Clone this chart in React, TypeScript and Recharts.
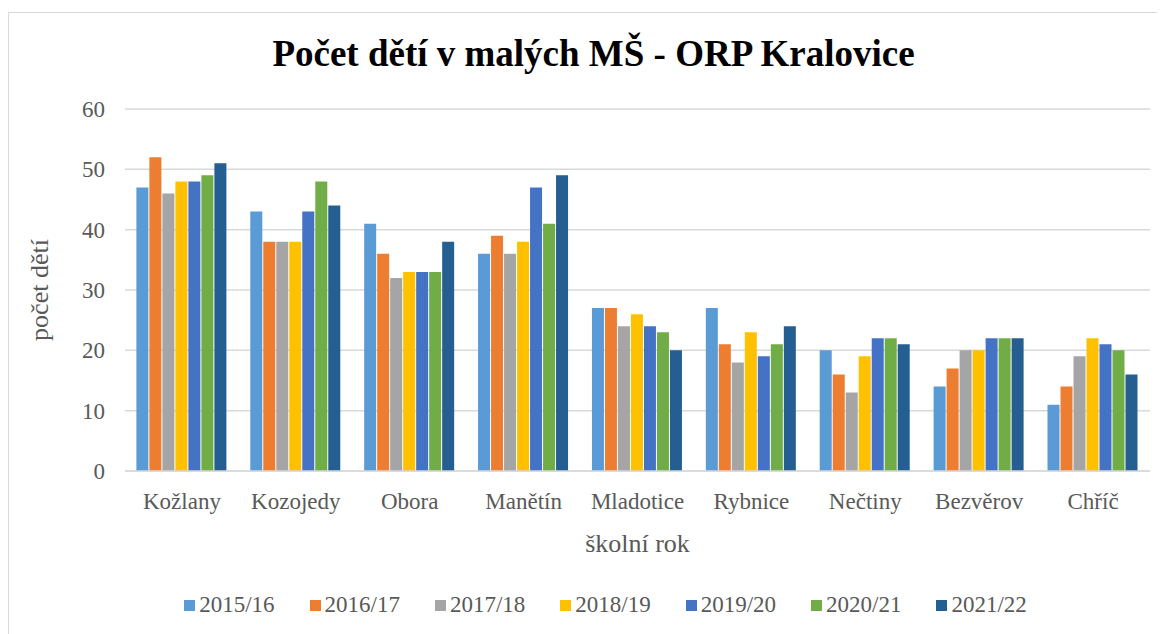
import { BarChart, Bar, XAxis, YAxis, CartesianGrid, Legend } from 'recharts';

const schools = ['Kožlany', 'Kozojedy', 'Obora', 'Manětín', 'Mladotice', 'Rybnice', 'Nečtiny', 'Bezvěrov', 'Chříč'];
const years = ['2015/16', '2016/17', '2017/18', '2018/19', '2019/20', '2020/21', '2021/22'];
const colors = ['#5b9bd5', '#ed7d31', '#a5a5a5', '#ffc000', '#4472c4', '#70ad47', '#255e91'];

// rows follow schools, columns follow years
const y2015 = [47, 43, 41, 36, 27, 27, 20, 14, 11];
const y2016 = [52, 38, 36, 39, 27, 21, 16, 17, 14];
const y2017 = [46, 38, 32, 36, 24, 18, 13, 20, 19];
const y2018 = [48, 38, 33, 38, 26, 23, 19, 20, 22];
const y2019 = [48, 43, 33, 47, 24, 19, 22, 22, 21];
const y2020 = [49, 48, 33, 41, 23, 21, 22, 22, 20];
const y2021 = [51, 44, 38, 49, 20, 24, 21, 22, 16];
const yTicks = [0, 10, 20, 30, 40, 50, 60];

const series = [y2015, y2016, y2017, y2018, y2019, y2020, y2021];

const data = schools.map((name, i) => {
  const row: Record<string, string | number> = { name };
  years.forEach((y, k) => {
    row[y] = series[k][i];
  });
  return row;
});

const font = '"Liberation Serif", "Times New Roman", serif';

function LegendRow(props: any) {
  const items = props.payload || [];
  return (
    <div style={{ display: 'flex', justifyContent: 'center', paddingLeft: 36 }}>
      {items.map((it: any, i: number) => (
        <div
          key={it.value}
          style={{
            display: 'flex',
            alignItems: 'center',
            marginLeft: i === 0 ? 0 : 35,
            fontSize: 23,
            fontFamily: font,
            color: '#595959',
            lineHeight: '30px',
          }}
        >
          <span style={{ width: 11, height: 11, background: it.color, marginRight: 4, display: 'inline-block' }} />
          {it.value}
        </div>
      ))}
    </div>
  );
}

export default function App() {
  return (
    <div
      style={{
        position: 'relative',
        width: 1157,
        height: 625,
        marginTop: 4,
        border: '1px solid #d9d9d9',
        fontFamily: font,
      }}
    >
      <div
        style={{
          position: 'absolute',
          top: 19,
          left: 6,
          width: '100%',
          textAlign: 'center',
          fontSize: 37,
          fontWeight: 'bold',
          color: '#000',
        }}
      >
        Počet dětí v malých MŠ - ORP Kralovice
      </div>
      <BarChart
        width={1157}
        height={625}
        data={data}
        margin={{ top: 96, right: 16, bottom: 18, left: 16 }}
        barCategoryGap="10%"
        barGap={1}
      >
        <CartesianGrid vertical={false} stroke="#d9d9d9" strokeWidth={1.5} />
        <XAxis
          dataKey="name"
          height={119}
          tickLine={false}
          axisLine={{ stroke: '#d9d9d9', strokeWidth: 1.5 }}
          tick={{ fill: '#595959', fontSize: 23, fontFamily: font }}
          tickMargin={16}
          label={{
            value: 'školní rok',
            position: 'insideBottom',
            offset: 38,
            fill: '#595959',
            fontSize: 26,
            fontFamily: font,
          }}
        />
        <YAxis
          width={100}
          domain={[0, 60]}
          ticks={yTicks}
          axisLine={false}
          tickLine={false}
          tickSize={0}
          tickMargin={20}
          tick={{ fill: '#595959', fontSize: 23, fontFamily: font }}
          label={{
            value: 'počet dětí',
            angle: -90,
            position: 'insideLeft',
            offset: 14,
            fill: '#595959',
            fontSize: 26,
            fontFamily: font,
            style: { textAnchor: 'middle' },
          }}
        />
        <Legend height={30} content={<LegendRow />} />
        {years.map((y, k) => (
          <Bar key={y} dataKey={y} fill={colors[k]} isAnimationActive={false} />
        ))}
      </BarChart>
    </div>
  );
}
